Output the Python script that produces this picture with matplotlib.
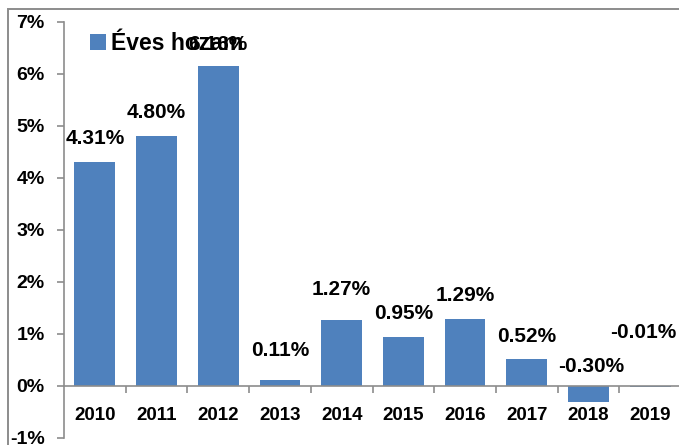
import matplotlib
matplotlib.use("Agg")
import matplotlib.pyplot as plt
from matplotlib.patches import Rectangle

# chart data
years = ["2010", "2011", "2012", "2013", "2014", "2015", "2016", "2017", "2018", "2019"]
returns = [4.31, 4.80, 6.16, 0.11, 1.27, 0.95, 1.29, 0.52, -0.30, -0.01]
series_name = "Éves hozam"

# label placement (pixels above bar top / zero), a few were nudged by hand in the original
label_gap_px = [18, 18, 16, 24, 25, 18, 18, 17, 14, 48]
label_dx_px = [0, 0, 0, 0, 0, 0, 0, 0, 3, -7]

W, H = 679, 445
dpi = 100
plt.rcParams['font.family'] = ['Liberation Sans', 'DejaVu Sans']
plt.rcParams['font.weight'] = 'bold'

fig = plt.figure(figsize=(W / dpi, H / dpi), dpi=dpi)
fig.patch.set_facecolor('white')

# Excel style outer chart frame (only top/left visible, rest is cropped)
fig.patches.append(Rectangle((8 / W, -0.1), 1.2, (H - 9) / H + 0.1,
                             transform=fig.transFigure, fill=False,
                             edgecolor='#8c8c8c', linewidth=1.4))

ax = fig.add_axes([64 / W, 7 / H, 617 / W, 416 / H])
x = list(range(len(years)))
bars = ax.bar(x, returns, width=0.66, color='#4F81BD', label=series_name, zorder=2)

ax.set_xlim(-0.5, 9.5)
ax.set_ylim(-1, 7)
ax.set_facecolor('none')

gray = '#8c8c8c'
for s in ['top', 'right']:
    ax.spines[s].set_visible(False)
ax.spines['left'].set_color(gray)
ax.spines['bottom'].set_color(gray)
ax.spines['left'].set_linewidth(1.2)
ax.spines['bottom'].set_linewidth(1.2)
ax.spines['bottom'].set_position(('data', 0))
ax.spines['bottom'].set_zorder(3)

yt = list(range(-1, 8))
ax.set_yticks(yt)
ax.set_yticklabels([f"{v}%" for v in yt], fontweight='bold')
ax.tick_params(axis='y', direction='out', length=5, width=1.2, color=gray,
               pad=9, labelsize=14)

ax.set_xticks(x)
ax.set_xticklabels(years, fontweight='bold')
ax.set_xticks([i + 0.5 for i in x[:-1]], minor=True)
ax.tick_params(axis='x', which='major', length=0, pad=15, labelsize=13.5)
ax.tick_params(axis='x', which='minor', direction='out', length=5, width=1.2, color=gray)

for b, v, gap, dx in zip(bars, returns, label_gap_px, label_dx_px):
    ax.annotate(f"{v:.2f}%", (b.get_x() + b.get_width() / 2, max(v, 0)),
                xytext=(dx * 0.72, gap * 0.72), textcoords='offset points',
                ha='center', va='baseline', fontsize=15, fontweight='bold',
                zorder=4)

leg = ax.legend(loc='upper left', bbox_to_anchor=(90 / W, 1 - 32 / H),
                bbox_transform=fig.transFigure, frameon=False, fontsize=16.5,
                handlelength=0.68, handleheight=0.68, handletextpad=0.25,
                borderpad=0, borderaxespad=0)
for t in leg.get_texts():
    t.set_fontweight('bold')

fig.savefig("out.png", dpi=dpi)
